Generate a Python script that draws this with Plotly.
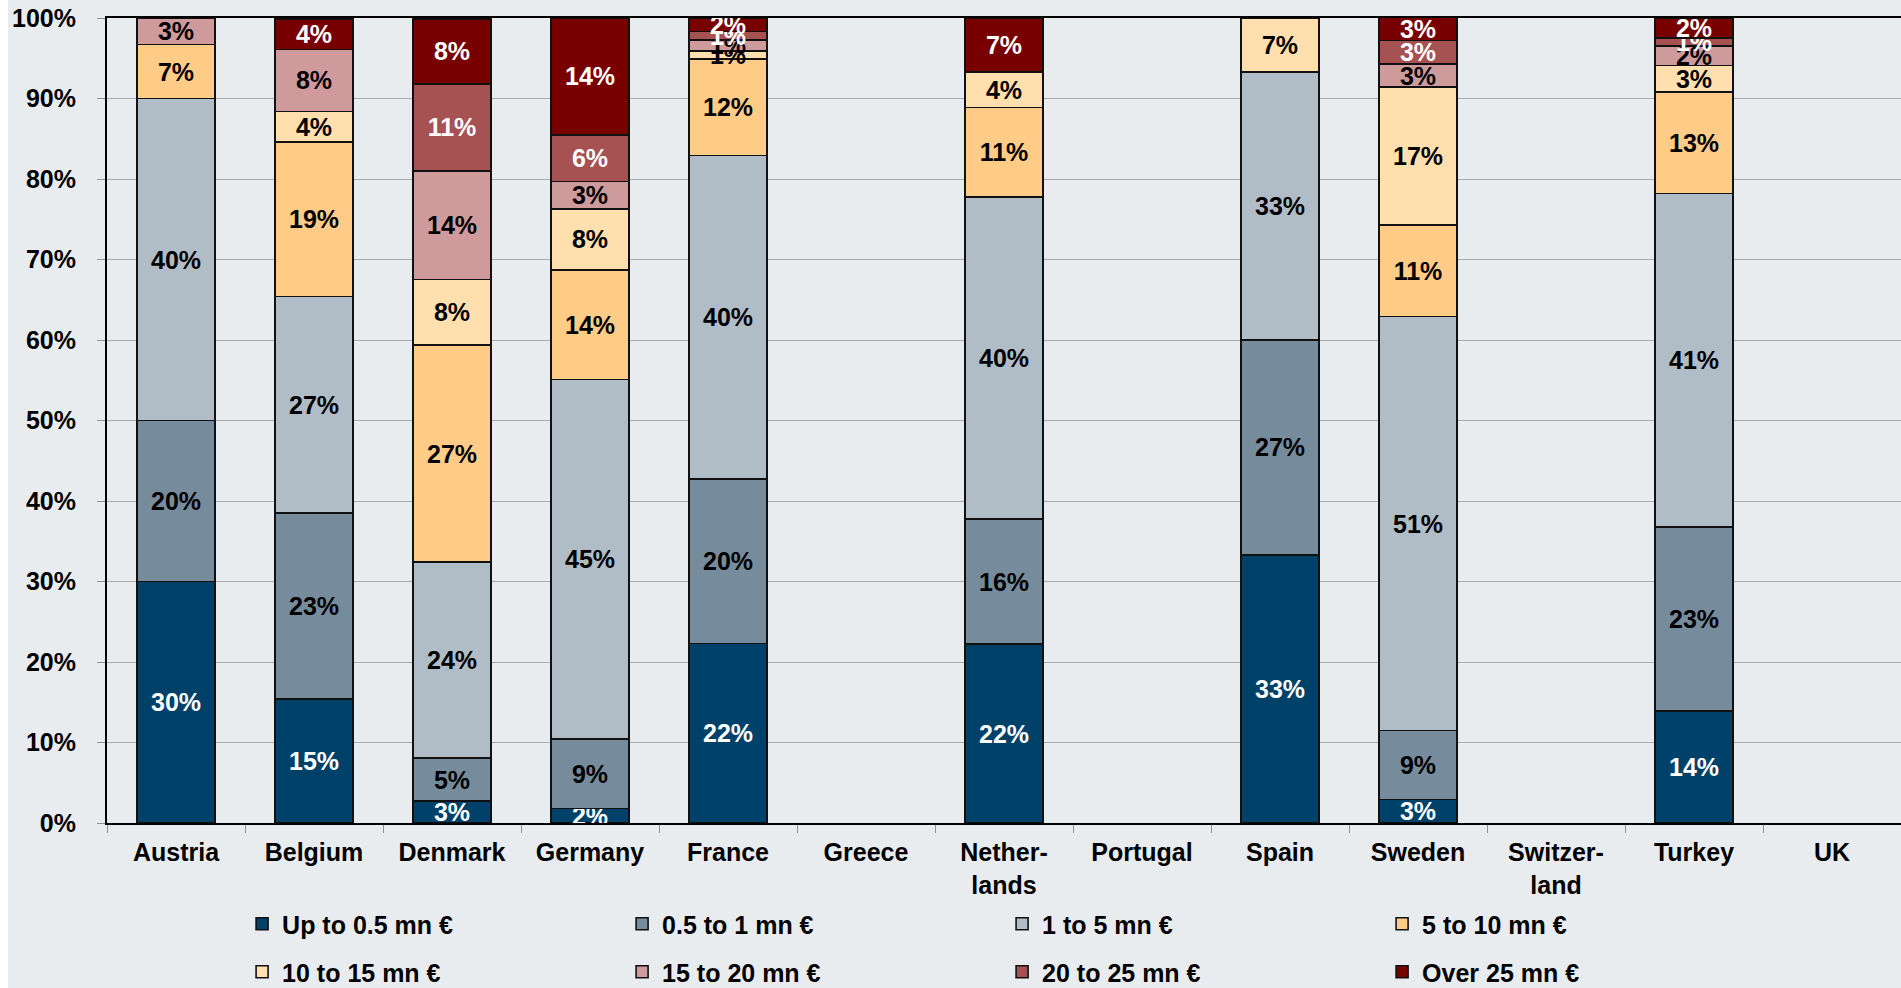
import plotly.graph_objects as go

countries = ["Austria", "Belgium", "Denmark", "Germany", "France", "Greece",
             "Nether-<br>lands", "Portugal", "Spain", "Sweden", "Switzer-<br>land", "Turkey", "UK"]

series_names = ["Up to 0.5 mn €", "0.5 to 1 mn €", "1 to 5 mn €", "5 to 10 mn €",
                "10 to 15 mn €", "15 to 20 mn €", "20 to 25 mn €", "Over 25 mn €"]

# values per series (percent), order follows countries
up_to_05   = [30.0, 15.4,  2.7,  1.8, 22.3, 0, 22.2, 0, 33.3,  2.9, 0, 13.9, 0]
s05_to_1   = [20.0, 23.1,  5.4,  8.6, 20.4, 0, 15.6, 0, 26.7,  8.6, 0, 22.9, 0]
s1_to_5    = [40.0, 26.9, 24.3, 44.7, 40.2, 0, 40.0, 0, 33.3, 51.4, 0, 41.4, 0]
s5_to_10   = [ 6.7, 19.2, 27.0, 13.6, 12.0, 0, 11.1, 0,  0.0, 11.4, 0, 12.6, 0]
s10_to_15  = [ 0.0,  3.8,  8.1,  7.6,  1.0, 0,  4.4, 0,  6.7, 17.1, 0,  3.3, 0]
s15_to_20  = [ 3.3,  7.7, 13.5,  3.4,  1.4, 0,  0.0, 0,  0.0,  2.9, 0,  2.4, 0]
s20_to_25  = [ 0.0,  0.0, 10.8,  5.8,  1.0, 0,  0.0, 0,  0.0,  2.9, 0,  1.0, 0]
over_25    = [ 0.0,  3.8,  8.1, 14.5,  1.7, 0,  6.7, 0,  0.0,  2.9, 0,  2.5, 0]

all_series = [up_to_05, s05_to_1, s1_to_5, s5_to_10, s10_to_15, s15_to_20, s20_to_25, over_25]

colors = ["#00416A", "#768B9B", "#B0BCC6", "#FFCC88", "#FFDFAE", "#CE9A9B", "#A65252", "#780000"]
text_colors = ["white", "black", "black", "black", "black", "black", "white", "white"]

BG = "#E8ECEF"
FONT = "Liberation Sans, Arial, sans-serif"
LEG_FONT = "Liberation Sans Narrow, Arial Narrow, Liberation Sans, Arial, sans-serif"

fig = go.Figure()
for i, (name, vals) in enumerate(zip(series_names, all_series)):
    yv = [v if v > 0 else None for v in vals]
    labels = [f"{v:.0f}%" if v > 0 else "" for v in vals]
    fig.add_trace(go.Bar(
        x=countries, y=yv, name=name,
        marker=dict(color=colors[i], line=dict(color="#111111", width=1.6)),
        text=labels, texttemplate="%{text}",
        textposition="inside", insidetextanchor="middle", textangle=0,
        constraintext="none",
        insidetextfont=dict(family=FONT, size=25, color=text_colors[i], weight="bold"),
        legend="legend" if i < 4 else "legend2",
        hoverinfo="skip",
    ))

leg_common = dict(orientation="h", x=0.0753, xanchor="left", yanchor="middle", yref="container",
                  entrywidth=335, entrywidthmode="pixels", bgcolor="rgba(0,0,0,0)",
                  font=dict(family=LEG_FONT, size=25, weight="bold"), traceorder="normal")

fig.update_layout(
    barmode="stack",
    bargap=0.435,
    width=1901, height=988,
    margin=dict(l=107, r=0, t=18, b=165, autoexpand=False),
    paper_bgcolor=BG, plot_bgcolor=BG,
    font=dict(family=FONT, size=25, color="black"),
    showlegend=True,
    legend=dict(y=1 - 924/988, **leg_common),
    legend2=dict(y=1 - 972/988, **leg_common),
    xaxis=dict(
        type="category", showline=True, linecolor="black", linewidth=2, mirror=True,
        ticks="outside", tickson="boundaries", ticklen=8, tickcolor="#909090", tickwidth=1,
        showgrid=False, tickfont=dict(family=FONT, size=25, weight="bold"),
        ticklabelstandoff=6,
    ),
    yaxis=dict(
        range=[0, 100], tickvals=[0, 10, 20, 30, 40, 50, 60, 70, 80, 90, 100],
        ticktext=["0%", "10%", "20%", "30%", "40%", "50%", "60%", "70%", "80%", "90%", "100%"],
        showline=True, linecolor="black", linewidth=2,
        ticks="outside", ticklen=8, tickcolor="#909090", tickwidth=1,
        showgrid=True, gridcolor="#A8ABAE", gridwidth=1, zeroline=False,
        tickfont=dict(family=FONT, size=25, weight="bold"), ticklabelstandoff=16,
    ),
    shapes=[dict(type="rect", xref="paper", yref="paper",
                 x0=-107/1794, x1=-99/1794, y0=-165/805, y1=1 + 18/805,
                 fillcolor="white", line=dict(width=0), layer="below")],
)

fig.write_html("out.html")
